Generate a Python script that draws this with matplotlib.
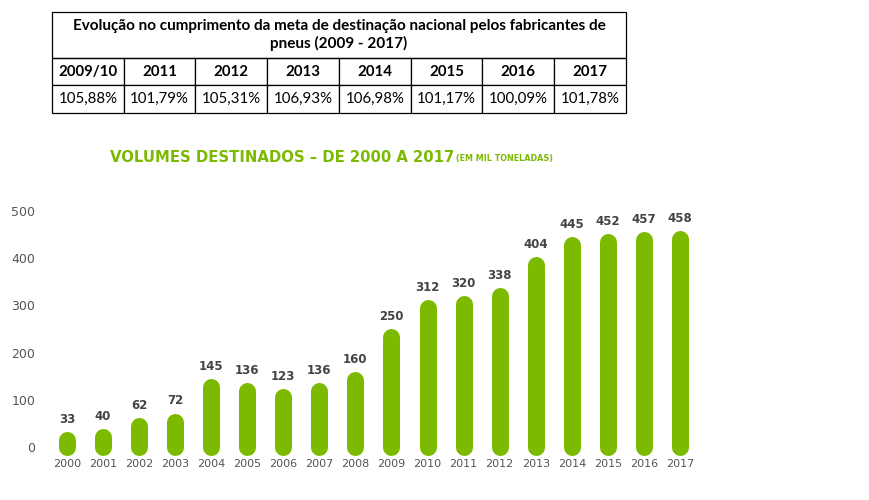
import matplotlib.pyplot as plt
from matplotlib.patches import Rectangle

# table data
table_title = "Evolução no cumprimento da meta de destinação nacional pelos fabricantes de\npneus (2009 - 2017)"
table_years = ["2009/10", "2011", "2012", "2013", "2014", "2015", "2016", "2017"]
table_rates = ["105,88%", "101,79%", "105,31%", "106,93%", "106,98%", "101,17%", "100,09%", "101,78%"]

# bar chart data
years = [str(y) for y in range(2000, 2018)]
volumes = [33, 40, 62, 72, 145, 136, 123, 136, 160, 250, 312, 320, 338, 404, 445, 452, 457, 458]

GREEN = "#7cba00"
DARK = "#444444"
GREY = "#555555"
TFONT = ["Lato", "DejaVu Sans"]

fig = plt.figure(figsize=(8.7, 5), dpi=100)

# --- table ---
tax = fig.add_axes([52 / 870, 1 - 113 / 500, 574 / 870, 101 / 500])
tax.set_xlim(0, 1)
tax.set_ylim(0, 1)
tax.axis("off")
tbl = tax.table(cellText=[table_rates], colLabels=table_years, cellLoc="center",
                bbox=[0, 0, 1, 0.545])
tbl.auto_set_font_size(False)
for (r, c), cell in tbl.get_celld().items():
    cell.set_linewidth(0.9)
    cell.set_edgecolor("black")
    cell.get_text().set_fontfamily(TFONT)
    cell.get_text().set_fontsize(10.8)
    if r == 0:
        cell.get_text().set_fontweight("bold")
tax.add_patch(Rectangle((0, 0.545), 1, 0.455, fill=False, lw=0.9, ec="black", clip_on=False))
tax.text(0.5, 0.545 + 0.455 / 2, table_title, ha="center", va="center", fontsize=11,
         fontweight="bold", family=TFONT, linespacing=1.2)

# --- title ---
fig.text(110 / 870, 1 - 157 / 500, "VOLUMES DESTINADOS – DE 2000 A 2017", color=GREEN,
         fontsize=10.7, fontweight="bold", family="DejaVu Sans", va="center")
fig.text(456 / 870, 1 - 158 / 500, "(EM MIL TONELADAS)", color=GREEN,
         fontsize=5.8, fontweight="bold", family="DejaVu Sans", va="center")

# --- bar chart ---
ax = fig.add_axes([45 / 870, 1 - 456 / 500, 635 / 870, 256 / 500])
ax.set_xlim(-0.607, 16.72)
ax.set_ylim(-19, 523)
bar_px = 17
lw_pt = bar_px * 72 / 100
# pill top sits on the value: shorten the line by the round-cap radius
px_per_unit = 256 / (523 + 19)
cap = (bar_px / 2) / px_per_unit
x = list(range(len(years)))
for xi, v in zip(x, volumes):
    ax.plot([xi, xi], [0, max(v - cap, 0)], color=GREEN, lw=lw_pt,
            solid_capstyle="round", clip_on=False)
    ax.annotate(str(v), (xi, v), xytext=(0, 4), textcoords="offset points",
                ha="center", va="bottom", fontsize=8.5, fontweight="bold", color=DARK,
                family="DejaVu Sans")
ax.set_xticks(x)
ax.set_xticklabels(years)
ax.set_yticks([0, 100, 200, 300, 400, 500])
ax.tick_params(length=0, colors=GREY)
ax.tick_params(axis="y", pad=7, labelsize=9)
ax.tick_params(axis="x", pad=2, labelsize=8)
for s in ax.spines.values():
    s.set_visible(False)
ax.patch.set_alpha(0)

fig.savefig("out.png", dpi=100)
